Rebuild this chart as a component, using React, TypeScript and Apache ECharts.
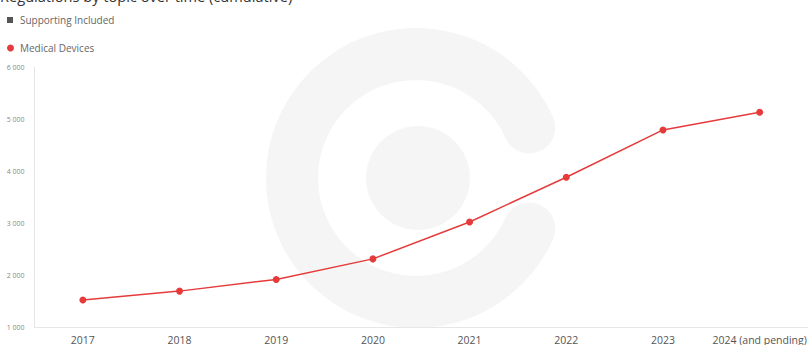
import React, { useEffect, useRef } from "react";
import * as echarts from "echarts";

const categories = ["2017", "2018", "2019", "2020", "2021", "2022", "2023", "2024 (and pending)"];
const medicalDevices = [1520, 1690, 1915, 2310, 3020, 3880, 4790, 5130];
const supportingIncluded: number[] = [];
const yTicks = { min: 1000, max: 6000, interval: 1000 };

const RED = "#e63b3b";
const FONT = "'Open Sans', 'Noto Sans', sans-serif";

export default function App() {
  const ref = useRef<HTMLDivElement>(null);
  useEffect(() => {
    if (!ref.current) return;
    const chart = echarts.init(ref.current, undefined, { renderer: "svg" });
    const wm = "#f5f5f5";
    const cx = 416;
    const cy = 178;
    chart.setOption({
      animation: false,
      textStyle: { fontFamily: FONT },
      graphic: [
        {
          type: "arc",
          z: -10,
          silent: true,
          shape: { cx, cy, r: 124, startAngle: (24 * Math.PI) / 180, endAngle: (336 * Math.PI) / 180, clockwise: true },
          style: { stroke: wm, lineWidth: 52, fill: "none", lineCap: "round" },
        },
        {
          type: "circle",
          z: -10,
          silent: true,
          shape: { cx: cx + 2, cy, r: 52 },
          style: { fill: wm },
        },
        {
          type: "text",
          left: 0,
          top: -12,
          style: {
            text: "Regulations by topic over time (cumulative)",
            fontSize: 14.6,
            fill: "#333",
            fontFamily: FONT,
          },
        },
      ],
      legend: [
        {
          left: 2,
          top: 10,
          itemWidth: 6,
          itemHeight: 6,
          itemGap: 4,
          icon: "rect",
          data: [{ name: "Supporting Included", itemStyle: { color: "#555" } }],
          textStyle: { fontSize: 10, color: "#666", fontFamily: FONT, padding: [0, 0, 0, 2] },
        },
        {
          left: 2,
          top: 38,
          itemWidth: 7,
          itemHeight: 7,
          icon: "circle",
          data: ["Medical Devices"],
          textStyle: { fontSize: 10, color: "#666", fontFamily: FONT, padding: [0, 0, 0, 1] },
        },
      ],
      grid: { left: 34.5, right: 2, top: 67, bottom: 18 },
      xAxis: {
        type: "category",
        data: categories,
        boundaryGap: true,
        axisLine: { lineStyle: { color: "#e6e6e6" } },
        axisTick: { show: false },
        axisLabel: { fontSize: 10.5, color: "#555", margin: 7, fontFamily: FONT, interval: 0 },
      },
      yAxis: {
        type: "value",
        min: yTicks.min,
        max: yTicks.max,
        interval: yTicks.interval,
        axisLine: { show: true, lineStyle: { color: "#e6e6e6" } },
        axisTick: { show: false },
        splitLine: { show: false },
        axisLabel: {
          fontSize: 7,
          color: "#888",
          margin: 10,
          fontFamily: FONT,
          formatter: (v: number) => String(v).replace(/\B(?=(\d{3})+(?!\d))/g, " "),
        },
      },
      series: [
        {
          name: "Supporting Included",
          type: "line",
          data: supportingIncluded,
          itemStyle: { color: "#555" },
        },
        {
          name: "Medical Devices",
          type: "line",
          data: medicalDevices,
          symbol: "circle",
          symbolSize: 7,
          itemStyle: { color: RED },
          lineStyle: { color: RED, width: 1.5 },
          z: 5,
        },
      ],
    });
    return () => chart.dispose();
  }, []);
  return <div ref={ref} style={{ width: 810, height: 345, position: "absolute", left: 0, top: 0 }} />;
}
